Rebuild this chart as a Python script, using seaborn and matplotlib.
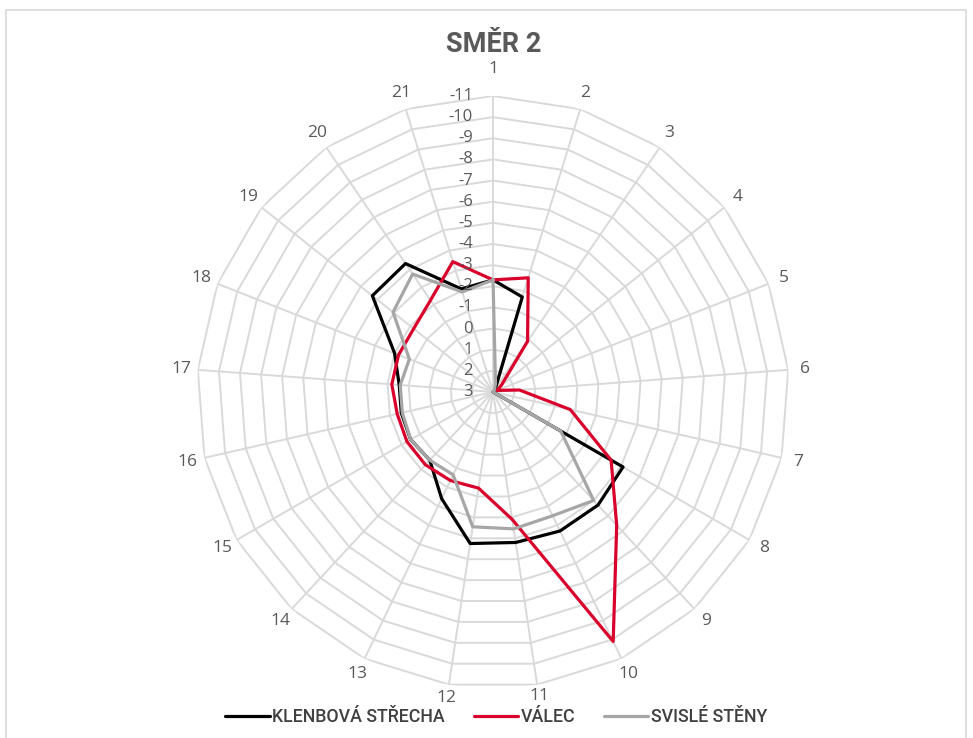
import numpy as np
import matplotlib
matplotlib.use("Agg")
import matplotlib.pyplot as plt
import matplotlib.transforms as mtransforms
from matplotlib.patches import Rectangle
import pandas as pd
import seaborn as sns

# spokes 1..21, values (radial axis runs 3 at centre to -11 outside)
categories = [str(i) for i in range(1, 22)]

klenbova = [-2.3, -1.7, 2.8, 2.9, 2.9, 3.0, 3.0, -4.1, -4.3, -4.3, -4.2,
            -4.25, -2.6, -1.4, -1.5, -1.45, -1.45, -2.0, -4.3, -4.35, -2.1]
valec = [-2.3, -2.65, 0.1, 2.5, 2.8, 1.75, -0.75, -3.45, -5.6, -10.1, -3.1,
         -1.6, -1.65, -1.7, -1.7, -1.65, -1.8, -1.8, -1.8, -2.25, -3.45]
svisle = [-2.3, 2.6, 2.9, 3.0, 3.0, 3.0, 3.0, -0.7, -4.0, -3.5, -3.55,
          -3.45, -1.35, -1.4, -1.5, -1.4, -1.4, -1.25, -3.05, -3.75, -1.95]

series_names = ["KLENBOVÁ STŘECHA", "VÁLEC", "SVISLÉ STĚNY"]
series_colors = ["#000000", "#D9002B", "#A6A6A6"]
r_ticks = list(range(3, -12, -1))

# --- build long table (polygon closed by repeating the first spoke) ---
n = len(categories)
theta = np.arange(n) * 2 * np.pi / n
theta_closed = np.append(theta, theta[0])

rows = []
for name, vals in zip(series_names, [klenbova, valec, svisle]):
    for t, v in zip(theta_closed, vals + vals[:1]):
        rows.append({"theta": t, "value": v, "series": name})
df = pd.DataFrame(rows)

sns.set_style("white")
plt.rcParams["font.family"] = ["Open Sans", "DejaVu Sans"]

fig = plt.figure(figsize=(9.73, 7.38), dpi=100)
ax = fig.add_axes([0.2025, 0.0678, 0.6084, 0.8022], projection="polar")
ax.set_theta_offset(np.pi / 2)
ax.set_theta_direction(-1)
ax.set_ylim(3, -11)

# polygon grid like the Excel radar
grid_c = "#D9D9D9"
for v in r_ticks[1:]:
    ax.plot(theta_closed, [v] * (n + 1), color=grid_c, lw=1.4, zorder=0)
for t in theta:
    ax.plot([t, t], [3, -11], color=grid_c, lw=1.4, zorder=0)
ax.grid(False)
ax.spines["polar"].set_visible(False)
ax.set_yticks([])
ax.set_xticks([])

sns.lineplot(data=df, x="theta", y="value", hue="series", hue_order=series_names,
             palette=series_colors, sort=False, estimator=None, lw=2.3, ax=ax)
ax.set_xlabel("")
ax.set_ylabel("")

# spoke labels just outside the outer ring
for t, lab in zip(theta, categories):
    d = {"1": 27, "11": 12, "12": 14}.get(lab, 17)
    tr = mtransforms.offset_copy(ax.transData, fig=fig, x=d * np.sin(t),
                                 y=d * np.cos(t), units="dots")
    ax.text(t, -11, lab, transform=tr, ha="center", va="center",
            fontsize=12.5, color="#595959", clip_on=False)

# radial value labels next to spoke 1
off = mtransforms.offset_copy(ax.transData, fig=fig, x=-20, y=0, units="dots")
for v in r_ticks:
    ax.text(0, v, str(v), transform=off, ha="right", va="center",
            fontsize=12, color="#595959")

handles, labels = ax.get_legend_handles_labels()
ax.get_legend().remove()
fig.legend(handles, labels, loc="center", bbox_to_anchor=(0.510, 0.028), ncol=3,
           frameon=False, handlelength=2.5, handletextpad=0.15, columnspacing=1.6,
           prop={"family": ["Roboto", "DejaVu Sans"], "size": 12.8, "weight": "medium"},
           labelcolor="#404040")

fig.text(0.507, 1 - 45 / 738, "SMĚR 2", ha="center", va="center", fontsize=19.5,
         fontweight="bold", color="#595959",
         family=["Roboto", "DejaVu Sans"])

fig.patches.append(Rectangle((6 / 973, -0.1), 960 / 973, 1 - 10 / 738 + 0.1,
                             transform=fig.transFigure, fill=False,
                             edgecolor="#D9D9D9", lw=1.2))

fig.savefig("out.png", dpi=100)
